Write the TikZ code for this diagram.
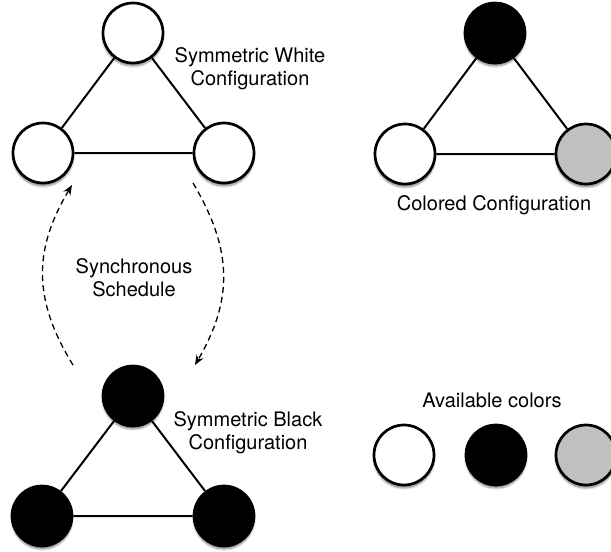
\documentclass[tikz,border=0pt]{standalone}
\usepackage{fontspec}
\setmainfont{TeX Gyre Heros}
\usetikzlibrary{arrows.meta,shadows.blur}
\definecolor{lightgrey}{RGB}{192,192,192}

\tikzset{
  vertex/.style={circle,draw,line width=2.7pt,minimum size=60pt,inner sep=0pt,
    blur shadow={shadow xshift=0pt,shadow yshift=-3pt,shadow blur steps=6,shadow opacity=50}},
  wvert/.style={vertex,fill=white},
  bvert/.style={vertex,fill=black},
  gvert/.style={vertex,fill=lightgrey},
  edge/.style={line width=2pt},
  flow/.style={line width=1.3pt,dash pattern=on 6pt off 4pt,-{Stealth[length=10pt,width=8pt]}},
  caption/.style={align=center,font=\fontsize{20}{23}\selectfont}
}

\begin{document}
\begin{tikzpicture}[x=1pt,y=-1pt]
    \useasboundingbox (0,0) rectangle (611,552);
    % symmetric white configuration
    \node [wvert] (wt) at (133,33) {};
    \node [wvert] (wl) at (43,153) {};
    \node [wvert] (wr) at (224,153) {};
    \draw [edge] (wt) -- (wl) -- (wr) -- (wt);
    \node [caption] (wtext) at (250,69) {Symmetric White\\Configuration};
    % colored configuration
    \node [bvert] (ct) at (495,33) {};
    \node [wvert] (cl) at (405,154) {};
    \node [gvert] (cr) at (586,154) {};
    \draw [edge] (ct) -- (cl) -- (cr) -- (ct);
    \node [caption] (ctext) at (494,205) {Colored Configuration};
    % symmetric black configuration
    \node [bvert] (bt) at (133,396) {};
    \node [bvert] (bl) at (42,516) {};
    \node [bvert] (br) at (224,516) {};
    \draw [edge] (bt) -- (bl) -- (br) -- (bt);
    \node [caption] (btext) at (248,433) {Symmetric Black\\Configuration};
    % schedule
    \coordinate (up0) at (73,365);
    \coordinate (up1) at (72,185);
    \coordinate (dn0) at (193,183);
    \coordinate (dn1) at (195,365);
    \draw [flow] (up0) .. controls (33,300) and (33,250) .. (up1);
    \draw [flow] (dn0) .. controls (233,250) and (233,300) .. (dn1);
    \node [caption] (stext) at (134,278) {Synchronous\\Schedule};
    % available colors
    \node [caption] (atext) at (492,400) {Available colors};
    \node [wvert] (aw) at (404,455) {};
    \node [bvert] (ab) at (496,455) {};
    \node [gvert] (ag) at (586,455) {};
\end{tikzpicture}
\end{document}
